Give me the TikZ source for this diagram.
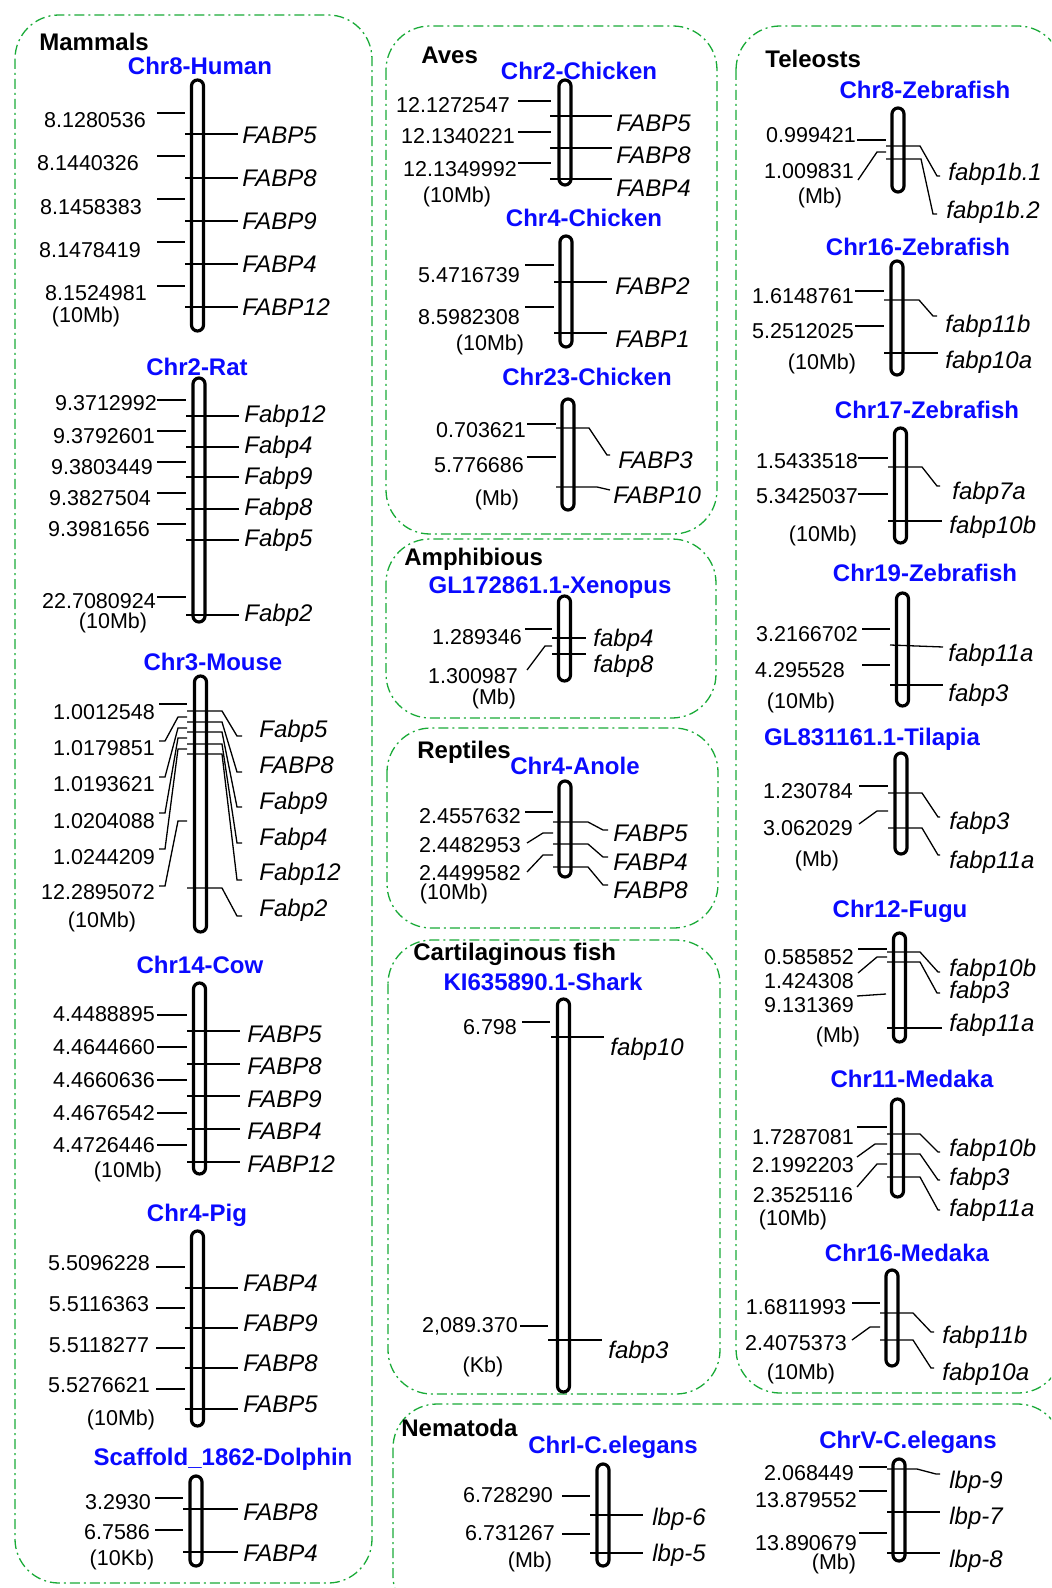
\documentclass[tikz,border=0pt]{standalone}
\usepackage{fontspec}
\setmainfont{Liberation Sans}
\definecolor{boxgreen}{RGB}{25,170,55}
\definecolor{chrblue}{RGB}{10,10,255}
\tikzset{
  grp/.style={draw=boxgreen, line width=0.65pt, rounded corners=22pt, dash pattern=on 5pt off 2pt on 1pt off 2pt},
  grplbl/.style={font=\fontsize{12}{14}\selectfont\bfseries, anchor=base west, inner sep=0pt, yshift=-4.3pt},
  chrname/.style={font=\fontsize{12}{14}\selectfont\bfseries, text=chrblue, anchor=base, inner sep=0pt, yshift=-4.3pt},
  num/.style={font=\fontsize{10.75}{12}\selectfont, anchor=base, inner sep=0pt, yshift=-3.8pt},
  gene/.style={font=\fontsize{12}{14}\selectfont\itshape, anchor=base west, inner sep=0pt, yshift=-4.3pt},
  chrom/.style={line width=1.6pt, rounded corners=3pt},
  tickln/.style={line width=0.65pt},
}
\begin{document}
\begin{tikzpicture}[x=0.5pt, y=-0.5pt]
  \useasboundingbox (0,0) rectangle (1051,1588);
  \clip (0,0) rectangle (1051,1588);
  % Group boxes
    \draw[grp] (15,15) rectangle (372,1583);
    \draw[grp] (386,26) rectangle (717,534);
    \draw[grp] (386,539) rectangle (716,718);
    \draw[grp] (387,728) rectangle (718,928);
    \draw[grp] (388,940) rectangle (720,1394);
    \draw[grp] (393,1404) rectangle (1062,1620);
    \draw[grp] (736,26) rectangle (1062,1393);
    \node[grplbl] (mammals) at (39,42) {Mammals};
    \node[grplbl] (aves) at (421,55) {Aves};
    \node[grplbl] (amphib) at (404,557) {Amphibious};
    \node[grplbl] (reptiles) at (417,750) {Reptiles};
    \node[grplbl] (cartfish) at (413,952) {Cartilaginous fish};
    \node[grplbl] (nematoda) at (401,1428) {Nematoda};
    \node[grplbl] (teleosts) at (765,59) {Teleosts};

  % Mammals: Chr8-Human
    \node[chrname] (human) at (200,66) {Chr8-Human};
    \draw[chrom] (191.5,80) rectangle (203.5,331);
    \foreach \y in {113,156,199,242,286} \draw[tickln] (157,\y) -- (185,\y);
    \foreach \y in {134,178,221,264,307} \draw[tickln] (185,\y) -- (238,\y);
    \node[num] (hun1) at (95,120) {8.1280536};
    \node[num] (hun2) at (88,163) {8.1440326};
    \node[num] (hun3) at (91,207) {8.1458383};
    \node[num] (hun4) at (90,250) {8.1478419};
    \node[num] (hun5) at (96,293) {8.1524981};
    \node[num] (hunu) at (86,315) {(10Mb)};
    \node[gene] (hug1) at (242,135) {FABP5};
    \node[gene] (hug2) at (242,178) {FABP8};
    \node[gene] (hug3) at (242,221) {FABP9};
    \node[gene] (hug4) at (242,264) {FABP4};
    \node[gene] (hug5) at (242,307) {FABP12};

  % Mammals: Chr2-Rat
    \node[chrname] (rat) at (197,367) {Chr2-Rat};
    \draw[chrom] (193,378) rectangle (205,622);
    \foreach \y in {400,431,462,493,524,597} \draw[tickln] (157,\y) -- (186,\y);
    \foreach \y in {416,447,477,509,540,615} \draw[tickln] (186,\y) -- (239,\y);
    \node[num] (ran1) at (106,403) {9.3712992};
    \node[num] (ran2) at (104,436) {9.3792601};
    \node[num] (ran3) at (102,467) {9.3803449};
    \node[num] (ran4) at (100,498) {9.3827504};
    \node[num] (ran5) at (99,529) {9.3981656};
    \node[num] (ran6) at (99,601) {22.7080924};
    \node[num] (ranu) at (113,621) {(10Mb)};
    \node[gene] (rag1) at (244,414) {Fabp12};
    \node[gene] (rag2) at (244,445) {Fabp4};
    \node[gene] (rag3) at (244,476) {Fabp9};
    \node[gene] (rag4) at (244,507) {Fabp8};
    \node[gene] (rag5) at (244,538) {Fabp5};
    \node[gene] (rag6) at (244,613) {Fabp2};

  % Mammals: Chr3-Mouse
    \node[chrname] (mouse) at (213,662) {Chr3-Mouse};
    \draw[chrom] (194.5,676) rectangle (206.5,932);
    \draw[tickln] (159,704) -- (187,704);
    \foreach \ys/\yt in {741/717,777/728,813/738,849/749,886/821}
      \draw[tickln] (159,\ys) -- (165,\ys) -- (178,\yt) -- (187,\yt);
    \foreach \yl/\ye in {711/736,722/772,732/807,744/843,754/880,888/916}
      \draw[tickln] (187,\yl) -- (222,\yl) -- (237,\ye) -- (242,\ye);
    \node[num] (mon1) at (104,712) {1.0012548};
    \node[num] (mon2) at (104,748) {1.0179851};
    \node[num] (mon3) at (104,784) {1.0193621};
    \node[num] (mon4) at (104,821) {1.0204088};
    \node[num] (mon5) at (104,857) {1.0244209};
    \node[num] (mon6) at (98,892) {12.2895072};
    \node[num] (monu) at (102,920) {(10Mb)};
    \node[gene] (mog1) at (259,729) {Fabp5};
    \node[gene] (mog2) at (259,765) {FABP8};
    \node[gene] (mog3) at (259,801) {Fabp9};
    \node[gene] (mog4) at (259,837) {Fabp4};
    \node[gene] (mog5) at (259,872) {Fabp12};
    \node[gene] (mog6) at (259,908) {Fabp2};

  % Mammals: Chr14-Cow
    \node[chrname] (cow) at (200,965) {Chr14-Cow};
    \draw[chrom] (193.5,983) rectangle (205.5,1174);
    \foreach \y in {1015,1047,1080,1113,1145} \draw[tickln] (157,\y) -- (187,\y);
    \foreach \y in {1031,1064,1096,1129,1162} \draw[tickln] (187,\y) -- (240,\y);
    \node[num] (con1) at (104,1014) {4.4488895};
    \node[num] (con2) at (104,1047) {4.4644660};
    \node[num] (con3) at (104,1080) {4.4660636};
    \node[num] (con4) at (104,1113) {4.4676542};
    \node[num] (con5) at (104,1145) {4.4726446};
    \node[num] (conu) at (128,1170) {(10Mb)};
    \node[gene] (cog1) at (247,1034) {FABP5};
    \node[gene] (cog2) at (247,1066) {FABP8};
    \node[gene] (cog3) at (247,1099) {FABP9};
    \node[gene] (cog4) at (247,1131) {FABP4};
    \node[gene] (cog5) at (247,1164) {FABP12};

  % Mammals: Chr4-Pig
    \node[chrname] (pig) at (197,1213) {Chr4-Pig};
    \draw[chrom] (191.5,1231) rectangle (203.5,1426);
    \foreach \y in {1267,1308,1348,1389} \draw[tickln] (156,\y) -- (185,\y);
    \foreach \y in {1288,1328,1368,1409} \draw[tickln] (185,\y) -- (238,\y);
    \node[num] (pin1) at (99,1263) {5.5096228};
    \node[num] (pin2) at (99,1304) {5.5116363};
    \node[num] (pin3) at (99,1345) {5.5118277};
    \node[num] (pin4) at (99,1385) {5.5276621};
    \node[num] (pinu) at (121,1418) {(10Mb)};
    \node[gene] (pig1) at (243,1283) {FABP4};
    \node[gene] (pig2) at (243,1323) {FABP9};
    \node[gene] (pig3) at (243,1363) {FABP8};
    \node[gene] (pig4) at (243,1404) {FABP5};

  % Mammals: Scaffold_1862-Dolphin
    \node[chrname] (dolphin) at (223,1457) {Scaffold\_1862-Dolphin};
    \draw[chrom] (190,1476) rectangle (202,1566);
    \foreach \y in {1498,1530} \draw[tickln] (155,\y) -- (183,\y);
    \foreach \y in {1509,1552} \draw[tickln] (183,\y) -- (238,\y);
    \node[num] (don1) at (118,1502) {3.2930};
    \node[num] (don2) at (117,1532) {6.7586};
    \node[num] (donu) at (122,1558) {(10Kb)};
    \node[gene] (dog1) at (243,1512) {FABP8};
    \node[gene] (dog2) at (243,1553) {FABP4};

  % Aves: Chr2-Chicken
    \node[chrname] (chick2) at (579,71) {Chr2-Chicken};
    \draw[chrom] (559,80) rectangle (571,185);
    \foreach \y in {101,132,163} \draw[tickln] (518,\y) -- (551,\y);
    \foreach \y in {116,148,179} \draw[tickln] (550,\y) -- (612,\y);
    \node[num] (cbn1) at (453,105) {12.1272547};
    \node[num] (cbn2) at (458,136) {12.1340221};
    \node[num] (cbn3) at (460,169) {12.1349992};
    \node[num] (cbnu) at (457,195) {(10Mb)};
    \node[gene] (cbg1) at (616,123) {FABP5};
    \node[gene] (cbg2) at (616,155) {FABP8};
    \node[gene] (cbg3) at (616,188) {FABP4};

  % Aves: Chr4-Chicken
    \node[chrname] (chick4) at (584,218) {Chr4-Chicken};
    \draw[chrom] (560,236) rectangle (572,347);
    \foreach \y in {265,307} \draw[tickln] (525,\y) -- (554,\y);
    \foreach \y in {282,333} \draw[tickln] (554,\y) -- (607,\y);
    \node[num] (ccn1) at (469,275) {5.4716739};
    \node[num] (ccn2) at (469,317) {8.5982308};
    \node[num] (ccnu) at (490,343) {(10Mb)};
    \node[gene] (ccg1) at (615,286) {FABP2};
    \node[gene] (ccg2) at (615,339) {FABP1};

  % Aves: Chr23-Chicken
    \node[chrname] (chick23) at (587,377) {Chr23-Chicken};
    \draw[chrom] (562,399) rectangle (574,510);
    \foreach \y in {424,457} \draw[tickln] (527,\y) -- (556,\y);
    \draw[tickln] (556,428) -- (589,428) -- (607,455) -- (610,455);
    \draw[tickln] (556,487) -- (597,487) -- (610,490);
    \node[num] (cdn1) at (481,430) {0.703621};
    \node[num] (cdn2) at (479,465) {5.776686};
    \node[num] (cdnu) at (497,498) {(Mb)};
    \node[gene] (cdg1) at (618,460) {FABP3};
    \node[gene] (cdg2) at (613,495) {FABP10};

  % Amphibious: GL172861.1-Xenopus
    \node[chrname] (xenopus) at (550,585) {GL172861.1-Xenopus};
    \draw[chrom] (558.5,596) rectangle (570.5,681);
    \draw[tickln] (525,629) -- (552,629);
    \draw[tickln] (527,670) -- (545,646) -- (552,646);
    \foreach \y in {638,654} \draw[tickln] (552,\y) -- (586,\y);
    \node[num] (xen1) at (477,637) {1.289346};
    \node[num] (xen2) at (473,676) {1.300987};
    \node[num] (xenu) at (494,697) {(Mb)};
    \node[gene] (xeg1) at (593,638) {fabp4};
    \node[gene] (xeg2) at (593,664) {fabp8};

  % Reptiles: Chr4-Anole
    \node[chrname] (anole) at (575,766) {Chr4-Anole};
    \draw[chrom] (559,781) rectangle (571,877);
    \draw[tickln] (525,812) -- (553,812);
    \draw[tickln] (527,843) -- (543,833) -- (553,833);
    \draw[tickln] (527,872) -- (543,855) -- (553,855);
    \foreach \yl/\ye in {822/830,844/857,867/885}
      \draw[tickln] (553,\yl) -- (588,\yl) -- (603,\ye) -- (608,\ye);
    \node[num] (ann1) at (470,816) {2.4557632};
    \node[num] (ann2) at (470,845) {2.4482953};
    \node[num] (ann3) at (470,873) {2.4499582};
    \node[num] (annu) at (454,892) {(10Mb)};
    \node[gene] (ang1) at (613,833) {FABP5};
    \node[gene] (ang2) at (613,862) {FABP4};
    \node[gene] (ang3) at (613,890) {FABP8};

  % Cartilaginous fish: KI635890.1-Shark
    \node[chrname] (shark) at (543,982) {KI635890.1-Shark};
    \draw[chrom] (557.5,999) rectangle (569.5,1392);
    \draw[tickln] (522,1022) -- (550,1022);
    \draw[tickln] (520,1326) -- (548,1326);
    \draw[tickln] (551,1037) -- (604,1037);
    \draw[tickln] (548,1340) -- (602,1340);
    \node[num] (shn1) at (490,1027) {6.798};
    \node[num] (shn2) at (470,1325) {2,089.370};
    \node[num] (shnu) at (483,1365) {(Kb)};
    \node[gene] (shg1) at (610,1047) {fabp10};
    \node[gene] (shg2) at (608,1350) {fabp3};

  % Nematoda: ChrI-C.elegans
    \node[chrname] (celi) at (613,1445) {ChrI-C.elegans};
    \draw[chrom] (597,1464) rectangle (609,1566);
    \foreach \y in {1496,1534} \draw[tickln] (562,\y) -- (590,\y);
    \foreach \y in {1515,1553} \draw[tickln] (590,\y) -- (643,\y);
    \node[num] (cin1) at (508,1495) {6.728290};
    \node[num] (cin2) at (510,1533) {6.731267};
    \node[num] (cinu) at (530,1560) {(Mb)};
    \node[gene] (cig1) at (652,1517) {lbp-6};
    \node[gene] (cig2) at (652,1553) {lbp-5};

  % Nematoda: ChrV-C.elegans
    \node[chrname] (celv) at (908,1440) {ChrV-C.elegans};
    \draw[chrom] (893,1459) rectangle (905,1561);
    \foreach \y in {1467,1491,1533} \draw[tickln] (859,\y) -- (887,\y);
    \draw[tickln] (887,1469) -- (917,1469) -- (936,1474) -- (940,1474);
    \foreach \y in {1512,1553} \draw[tickln] (887,\y) -- (940,\y);
    \node[num] (cvn1) at (809,1473) {2.068449};
    \node[num] (cvn2) at (806,1500) {13.879552};
    \node[num] (cvn3) at (806,1543) {13.890679};
    \node[num] (cvnu) at (834,1562) {(Mb)};
    \node[gene] (cvg1) at (949,1480) {lbp-9};
    \node[gene] (cvg2) at (949,1516) {lbp-7};
    \node[gene] (cvg3) at (949,1559) {lbp-8};

  % Teleosts: Chr8-Zebrafish
    \node[chrname] (zf8) at (925,90) {Chr8-Zebrafish};
    \draw[chrom] (892,108) rectangle (904,192);
    \draw[tickln] (857,140) -- (886,140);
    \draw[tickln] (858,180) -- (877,152) -- (886,152);
    \draw[tickln] (886,146) -- (920,146) -- (937,176) -- (940,176);
    \draw[tickln] (886,159) -- (921,159) -- (933,214) -- (937,214);
    \node[num] (zan1) at (811,135) {0.999421};
    \node[num] (zan2) at (809,171) {1.009831};
    \node[num] (zanu) at (820,196) {(Mb)};
    \node[gene] (zag1) at (948,172) {fabp1b.1};
    \node[gene] (zag2) at (946,210) {fabp1b.2};

  % Teleosts: Chr16-Zebrafish
    \node[chrname] (zf16) at (918,247) {Chr16-Zebrafish};
    \draw[chrom] (891,261) rectangle (903,375);
    \foreach \y in {291,326} \draw[tickln] (855,\y) -- (884,\y);
    \draw[tickln] (884,300) -- (919,300) -- (933,316) -- (937,316);
    \draw[tickln] (884,353) -- (938,353);
    \node[num] (zbn1) at (803,296) {1.6148761};
    \node[num] (zbn2) at (803,331) {5.2512025};
    \node[num] (zbnu) at (822,362) {(10Mb)};
    \node[gene] (zbg1) at (945,324) {fabp11b};
    \node[gene] (zbg2) at (945,360) {fabp10a};

  % Teleosts: Chr17-Zebrafish
    \node[chrname] (zf17) at (927,410) {Chr17-Zebrafish};
    \draw[chrom] (894.5,428) rectangle (906.5,543);
    \foreach \y in {458,494} \draw[tickln] (858,\y) -- (888,\y);
    \draw[tickln] (888,467) -- (922,467) -- (937,486) -- (940,486);
    \draw[tickln] (888,521) -- (942,521);
    \node[num] (zcn1) at (807,461) {1.5433518};
    \node[num] (zcn2) at (807,496) {5.3425037};
    \node[num] (zcnu) at (823,534) {(10Mb)};
    \node[gene] (zcg1) at (952,491) {fabp7a};
    \node[gene] (zcg2) at (949,525) {fabp10b};

  % Teleosts: Chr19-Zebrafish
    \node[chrname] (zf19) at (925,573) {Chr19-Zebrafish};
    \draw[chrom] (896.5,593) rectangle (908.5,706);
    \foreach \y in {629,665} \draw[tickln] (862,\y) -- (890,\y);
    \draw[tickln] (890,645) -- (943,647);
    \draw[tickln] (890,685) -- (943,685);
    \node[num] (zdn1) at (807,634) {3.2166702};
    \node[num] (zdn2) at (800,670) {4.295528};
    \node[num] (zdnu) at (801,701) {(10Mb)};
    \node[gene] (zdg1) at (948,653) {fabp11a};
    \node[gene] (zdg2) at (948,693) {fabp3};

  % Teleosts: GL831161.1-Tilapia
    \node[chrname] (tilapia) at (872,737) {GL831161.1-Tilapia};
    \draw[chrom] (895,753) rectangle (907,854);
    \draw[tickln] (859,786) -- (888,786);
    \draw[tickln] (859,824) -- (877,811) -- (888,811);
    \draw[tickln] (888,793) -- (922,793) -- (938,817) -- (940,817);
    \draw[tickln] (888,828) -- (922,828) -- (938,855) -- (940,855);
    \node[num] (tin1) at (808,791) {1.230784};
    \node[num] (tin2) at (808,828) {3.062029};
    \node[num] (tinu) at (817,859) {(Mb)};
    \node[gene] (tig1) at (949,821) {fabp3};
    \node[gene] (tig2) at (949,860) {fabp11a};

  % Teleosts: Chr12-Fugu
    \node[chrname] (fugu) at (900,909) {Chr12-Fugu};
    \draw[chrom] (893.5,933) rectangle (905.5,1042);
    \draw[tickln] (858,949) -- (887,949);
    \draw[tickln] (858,973) -- (877,957) -- (887,957);
    \draw[tickln] (857,996) -- (886,994);
    \draw[tickln] (887,952) -- (920,952) -- (938,972) -- (940,972);
    \draw[tickln] (887,962) -- (920,962) -- (937,993) -- (940,993);
    \draw[tickln] (887,1028) -- (942,1028);
    \node[num] (fun1) at (809,957) {0.585852};
    \node[num] (fun2) at (809,981) {1.424308};
    \node[num] (fun3) at (809,1005) {9.131369};
    \node[num] (funu) at (838,1035) {(Mb)};
    \node[gene] (fug1) at (949,968) {fabp10b};
    \node[gene] (fug2) at (949,990) {fabp3};
    \node[gene] (fug3) at (949,1023) {fabp11a};

  % Teleosts: Chr11-Medaka
    \node[chrname] (med11) at (912,1079) {Chr11-Medaka};
    \draw[chrom] (891.5,1099) rectangle (903.5,1197);
    \draw[tickln] (857,1127) -- (887,1127);
    \draw[tickln] (857,1157) -- (875,1144) -- (887,1144);
    \draw[tickln] (857,1187) -- (877,1164) -- (887,1164);
    \foreach \yl/\ye in {1134/1152,1154/1180,1177/1210}
      \draw[tickln] (887,\yl) -- (920,\yl) -- (938,\ye) -- (940,\ye);
    \node[num] (man1) at (803,1137) {1.7287081};
    \node[num] (man2) at (803,1165) {2.1992203};
    \node[num] (man3) at (803,1195) {2.3525116};
    \node[num] (manu) at (793,1218) {(10Mb)};
    \node[gene] (mag1) at (949,1148) {fabp10b};
    \node[gene] (mag2) at (949,1177) {fabp3};
    \node[gene] (mag3) at (949,1208) {fabp11a};

  % Teleosts: Chr16-Medaka
    \node[chrname] (med16) at (907,1253) {Chr16-Medaka};
    \draw[chrom] (886,1270) rectangle (898,1366);
    \draw[tickln] (852,1303) -- (880,1303);
    \draw[tickln] (852,1340) -- (870,1327) -- (880,1327);
    \draw[tickln] (880,1313) -- (913,1313) -- (931,1332) -- (934,1332);
    \draw[tickln] (880,1340) -- (913,1340) -- (931,1368) -- (934,1368);
    \node[num] (mbn1) at (796,1307) {1.6811993};
    \node[num] (mbn2) at (796,1343) {2.4075373};
    \node[num] (mbnu) at (801,1372) {(10Mb)};
    \node[gene] (mbg1) at (942,1335) {fabp11b};
    \node[gene] (mbg2) at (942,1372) {fabp10a};
\end{tikzpicture}
\end{document}
